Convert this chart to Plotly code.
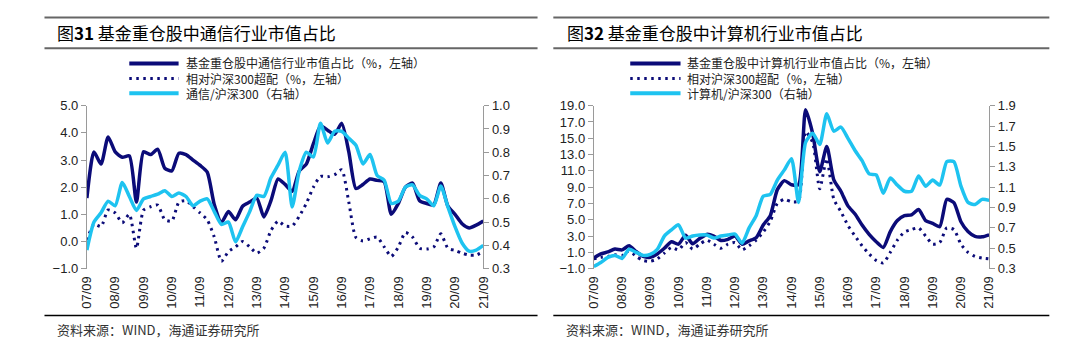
import plotly.graph_objects as go

# ---------------- data ----------------
quarters = ["07/09", "07/12"] + [f"{y:02d}/{m:02d}" for y in range(8, 21) for m in (3, 6, 9, 12)] + ["21/03", "21/06", "21/09"]
year_ticks = [f"{y:02d}/09" for y in range(7, 22)]

# Fig 31 telecom
tel_share = [1.6, 3.3, 2.85, 3.85, 3.3, 3.1, 3.15, 1.45, 3.3, 3.2, 3.4, 2.7, 2.6, 3.25, 3.2, 3.0,
             2.8, 2.55, 1.35, 0.7, 1.1, 0.8, 1.3, 1.45, 1.6, 0.9, 1.5, 2.3, 2.1, 1.85, 2.6, 2.85,
             3.6, 4.25, 4.1, 3.95, 4.35, 3.3, 1.95, 2.1, 2.3, 2.25, 2.2, 1.0, 1.4, 2.0, 2.15, 1.5,
             1.4, 1.35, 2.15, 1.3, 1.0, 0.65, 0.5, 0.6, 0.75]
tel_excess = [0.05, 0.63, 0.55, 1.16, 1.05, 0.69, 1.0, -0.25, 1.15, 1.28, 1.34, 0.8, 0.75, 1.45, 1.5, 1.28,
              1.05, 0.8, 0.16, -0.73, -0.37, -0.2, 0.0, -0.2, -0.43, -0.25, 0.4, 0.75, 0.57, 0.57, 0.93, 1.4,
              2.0, 2.4, 2.38, 2.46, 2.64, 1.45, 0.15, 0.02, 0.1, 0.16, -0.2, -0.55, -0.2, 0.33, 0.16, -0.25,
              -0.28, -0.2, 0.28, -0.25, -0.33, -0.43, -0.5, -0.5, -0.37]
tel_ratio = [0.38, 0.50, 0.54, 0.59, 0.57, 0.67, 0.61, 0.55, 0.60, 0.61, 0.62, 0.635, 0.61, 0.625, 0.61, 0.57,
             0.59, 0.60, 0.545, 0.49, 0.50, 0.415, 0.48, 0.545, 0.615, 0.61, 0.69, 0.745, 0.80, 0.565, 0.72, 0.80,
             0.78, 0.925, 0.84, 0.89, 0.89, 0.86, 0.83, 0.75, 0.79, 0.70, 0.68, 0.58, 0.59, 0.65, 0.66, 0.615,
             0.60, 0.57, 0.655, 0.565, 0.48, 0.41, 0.375, 0.38, 0.40]

# Fig 32 computer
cmp_share = [0.3, 0.8, 1.05, 1.4, 1.3, 1.8, 1.1, 0.5, 0.4, 0.8, 1.5, 2.3, 2.0, 3.1, 2.05, 2.7,
             3.2, 3.0, 2.45, 2.6, 3.0, 2.0, 2.4, 2.8, 4.35, 5.5, 8.7, 9.8, 9.3, 9.3, 18.5, 15.6,
             10.9, 14.0, 9.9, 8.5, 6.7, 5.7, 4.35, 3.2, 2.3, 1.6, 3.55, 4.9, 5.5, 5.6, 6.25, 4.9,
             4.55, 4.15, 7.5, 7.1, 4.75, 3.55, 2.95, 2.9, 3.15]
cmp_excess = [0.2, 0.4, 0.5, 0.7, 0.6, 1.2, 0.5, 0.0, -0.1, 0.2, 0.9, 1.6, 1.3, 2.2, 1.4, 2.0,
              2.5, 2.0, 1.5, 2.0, 2.2, 1.3, 1.8, 2.5, 3.5, 4.8, 7.0, 7.5, 7.2, 7.3, 15.8, 14.5,
              8.8, 12.5, 7.5, 6.0, 4.3, 3.0, 1.8, 0.8, 0.0, -0.3, 1.0, 2.5, 3.5, 3.8, 4.0, 3.0,
              2.0, 2.2, 4.0, 3.8, 2.0, 1.0, 0.5, 0.3, 0.2]
cmp_ratio = [0.32, 0.36, 0.41, 0.43, 0.40, 0.49, 0.46, 0.43, 0.44, 0.49, 0.62, 0.68, 0.73, 0.60, 0.62, 0.63,
             0.63, 0.60, 0.62, 0.63, 0.64, 0.55, 0.70, 0.82, 1.01, 1.03, 1.17, 1.27, 1.38, 0.95, 1.54, 1.63,
             1.52, 1.82, 1.65, 1.69, 1.58, 1.46, 1.36, 1.23, 1.22, 1.04, 1.19, 1.12, 1.06, 1.06, 1.21, 1.11,
             1.17, 1.12, 1.35, 1.35, 1.11, 0.95, 0.93, 0.98, 0.97]

names_left = ["基金重仓股中通信行业市值占比（%，左轴）", "相对沪深300超配（%，左轴）", "通信/沪深300（右轴）"]
names_right = ["基金重仓股中计算机行业市值占比（%，左轴）", "相对沪深300超配（%，左轴）", "计算机/沪深300（右轴）"]

# ---------------- style ----------------
W, H = 1080, 360
NAVY = "#0b0b78"
CYAN = "#1ec3f0"
AXC = "#9a9a9a"
TXT = "#222222"
CJK = "Noto Sans CJK SC"
LAT = "Liberation Sans, Arial"
DOT = "2.5px,4.5px"

def px(x):
    return x / W

def py(y):
    return 1 - y / H

xs = list(range(len(quarters)))
tickpos = [quarters.index(t) for t in year_ticks]

fig = go.Figure()

def add_panel(xa, ya, ya2, share, excess, ratio, names):
    fig.add_trace(go.Scatter(x=xs, y=share, name=names[0], xaxis=xa, yaxis=ya, mode="lines",
                             line=dict(color=NAVY, width=3.5, shape="spline", smoothing=0.6)))
    fig.add_trace(go.Scatter(x=xs, y=excess, name=names[1], xaxis=xa, yaxis=ya, mode="lines",
                             line=dict(color=NAVY, width=3, dash=DOT, shape="spline", smoothing=0.6)))
    fig.add_trace(go.Scatter(x=xs, y=ratio, name=names[2], xaxis=xa, yaxis=ya2, mode="lines",
                             line=dict(color=CYAN, width=3.5, shape="spline", smoothing=0.6)))

add_panel("x", "y", "y2", tel_share, tel_excess, tel_ratio, names_left)
add_panel("x2", "y3", "y4", cmp_share, cmp_excess, cmp_ratio, names_right)

ydom = [py(273), py(103)]
dom_l = [px(80), px(482)]
dom_r = [px(594), px(995)]
xr = [0, len(quarters) - 1]

tickfont = dict(family=LAT, size=13, color=TXT)
yax_common = dict(domain=ydom, showline=True, linecolor=AXC, linewidth=1, ticks="outside",
                  ticklen=5, tickcolor=AXC, showgrid=False, zeroline=False, tickfont=tickfont,
                  tickformat=".1f", fixedrange=True)
xlab_common = dict(range=xr, tickvals=tickpos, ticktext=year_ticks, tickangle=-90, ticks="",
                   showline=False, showgrid=False, zeroline=False, tickfont=tickfont, ticklabelstandoff=4)
xline_common = dict(range=xr, tickvals=tickpos, showticklabels=False, ticks="outside", ticklen=5,
                    tickcolor=AXC, showline=True, linecolor=AXC, linewidth=1, showgrid=False,
                    zeroline=False, anchor="free")

lrange = [-1, 5]
rrange = [-1, 19]
zero_l = ydom[0] + (0 - lrange[0]) / (lrange[1] - lrange[0]) * (ydom[1] - ydom[0])
zero_r = ydom[0] + (0 - rrange[0]) / (rrange[1] - rrange[0]) * (ydom[1] - ydom[0])

fig.update_layout(
    width=W, height=H, margin=dict(l=0, r=0, t=0, b=0),
    paper_bgcolor="white", plot_bgcolor="white", showlegend=False,
    xaxis=dict(domain=dom_l, anchor="y", **xlab_common),
    xaxis2=dict(domain=dom_r, anchor="y3", **xlab_common),
    xaxis3=dict(overlaying="x", position=zero_l, **xline_common),
    xaxis4=dict(overlaying="x2", position=zero_r, **xline_common),
    yaxis=dict(anchor="x", range=lrange, tick0=-1, dtick=1, **yax_common),
    yaxis2=dict(anchor="x", overlaying="y", side="right", range=[0.3, 1.0], tick0=0.3, dtick=0.1, **yax_common),
    yaxis3=dict(anchor="x2", range=rrange, tick0=-1, dtick=2, **yax_common),
    yaxis4=dict(anchor="x2", overlaying="y3", side="right", range=[0.3, 1.9], tick0=0.3, dtick=0.2, **yax_common),
)

# rules
shapes = []
for (x0, x1) in [(37, 537), (553, 1056)]:
    shapes.append(dict(type="line", xref="paper", yref="paper", x0=px(x0), x1=px(x1), y0=py(11), y1=py(11),
                       line=dict(color="#666666", width=2)))
    shapes.append(dict(type="line", xref="paper", yref="paper", x0=px(x0), x1=px(x1), y0=py(43), y1=py(43),
                       line=dict(color="#666666", width=2)))
    shapes.append(dict(type="line", xref="paper", yref="paper", x0=px(x0), x1=px(x1), y0=py(322), y1=py(322),
                       line=dict(color="#000000", width=1.5)))

# custom legends: one multi-line text block per panel, key lines on each text row
annotations = []
LEG_FS = 12
leg_center = 74.5
line_gap = 1.3 * LEG_FS
legend_rows = [leg_center - line_gap, leg_center, leg_center + line_gap]
styles = [dict(color=NAVY, width=4), dict(color=NAVY, width=3, dash=DOT), dict(color=CYAN, width=4)]
for (sx0, sx1, tx, names) in [(123, 173, 178, names_left), (631, 682, 687, names_right)]:
    for row, st in zip(legend_rows, styles):
        shapes.append(dict(type="line", xref="paper", yref="paper", x0=px(sx0), x1=px(sx1),
                           y0=py(row), y1=py(row), line=st))
    annotations.append(dict(xref="paper", yref="paper", x=px(tx), y=py(leg_center), xanchor="left",
                            yanchor="middle", align="left", text="<br>".join(names), showarrow=False,
                            font=dict(family=CJK, size=LEG_FS, color=TXT)))

# titles and sources
for (tx, txt) in [(48, "图<b>31</b> 基金重仓股中通信行业市值占比"), (565, "图<b>32</b> 基金重仓股中计算机行业市值占比")]:
    annotations.append(dict(xref="paper", yref="paper", x=px(tx), y=py(27), xanchor="left", yanchor="middle",
                            text=txt, showarrow=False, font=dict(family=CJK, size=17, color="#000000")))
for tx in (48, 564):
    annotations.append(dict(xref="paper", yref="paper", x=px(tx), y=py(336), xanchor="left", yanchor="middle",
                            text="资料来源：WIND，海通证券研究所", showarrow=False,
                            font=dict(family=CJK, size=13, color="#333333")))

fig.update_layout(shapes=shapes, annotations=annotations)
fig.write_html("out.html", config={"displayModeBar": False},
               post_script="document.body.style.margin='0';document.body.style.overflow='hidden';")
